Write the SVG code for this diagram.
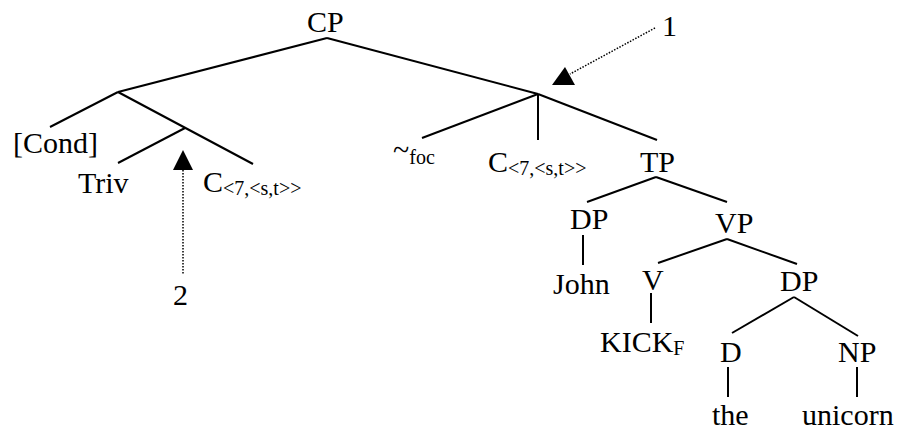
<svg xmlns="http://www.w3.org/2000/svg" width="901" height="433" viewBox="0 0 901 433">
<style>
text{font-size:30px;fill:#000}
.sub{font-size:20px}
.edge{stroke:#000;stroke-width:2;fill:none;stroke-linecap:butt}
.dot{stroke:#000;stroke-width:1.5;fill:none;stroke-dasharray:1.5 1.5}
.head{fill:#000}
</style>
<rect width="901" height="433" fill="#fff"/>
<g id="connectors">
<line class="edge" x1="327" y1="38" x2="118" y2="92"/>
<line class="edge" x1="327" y1="38" x2="538" y2="94"/>
<line class="edge" x1="118" y1="92" x2="50" y2="127"/>
<line class="edge" x1="118" y1="92" x2="253" y2="164"/>
<line class="edge" x1="185" y1="128" x2="118" y2="163"/>
<line class="edge" x1="538" y1="94" x2="422" y2="138"/>
<line class="edge" x1="538" y1="94" x2="538" y2="140"/>
<line class="edge" x1="538" y1="94" x2="657" y2="140"/>
<line class="edge" x1="656" y1="177" x2="587" y2="202"/>
<line class="edge" x1="656" y1="177" x2="727" y2="202"/>
<line class="edge" x1="583" y1="235" x2="583" y2="265"/>
<line class="edge" x1="727" y1="239" x2="658" y2="263"/>
<line class="edge" x1="727" y1="239" x2="797" y2="264"/>
<line class="edge" x1="651" y1="293" x2="651" y2="323"/>
<line class="edge" x1="794" y1="297" x2="732" y2="333"/>
<line class="edge" x1="794" y1="297" x2="858" y2="336"/>
<line class="edge" x1="728" y1="367" x2="728" y2="397"/>
<line class="edge" x1="857" y1="367" x2="857" y2="397"/>
<line class="dot" x1="655" y1="28" x2="570" y2="74"/>
<polygon class="head" points="565,67 552,85 575,85"/>
<line class="dot" x1="183" y1="170" x2="183" y2="275"/>
<polygon class="head" points="183,150 173,170 193,170"/>
</g>
<g font-family="Liberation Serif, Times New Roman, serif">
<g id="n-cp"><text x="307" y="32">CP</text></g>
<g id="n-cond"><text x="13" y="153">[Cond]</text></g>
<g id="n-triv"><text x="78" y="193">Triv</text></g>
<g id="n-c1"><text x="203" y="192">C<tspan class="sub" dy="3">&lt;7,&lt;s,t&gt;&gt;</tspan></text></g>
<g id="n-foc"><text x="393" y="160">~<tspan class="sub" dy="4">foc</tspan></text></g>
<g id="n-c2"><text x="488" y="172">C<tspan class="sub" dy="3">&lt;7,&lt;s,t&gt;&gt;</tspan></text></g>
<g id="n-tp"><text x="640" y="172">TP</text></g>
<g id="n-dp1"><text x="570" y="229">DP</text></g>
<g id="n-john"><text x="553" y="294">John</text></g>
<g id="n-vp"><text x="715" y="233">VP</text></g>
<g id="n-v"><text x="642" y="290">V</text></g>
<g id="n-kick"><text x="600" y="352">KICK<tspan class="sub" dy="3">F</tspan></text></g>
<g id="n-dp2"><text x="780" y="291">DP</text></g>
<g id="n-d"><text x="720" y="362">D</text></g>
<g id="n-np"><text x="838" y="362">NP</text></g>
<g id="n-the"><text x="712" y="425">the</text></g>
<g id="n-unicorn"><text x="802" y="425">unicorn</text></g>
<g id="label-1"><text x="662" y="36">1</text></g>
<g id="label-2"><text x="173" y="305">2</text></g>
</g>
</svg>
